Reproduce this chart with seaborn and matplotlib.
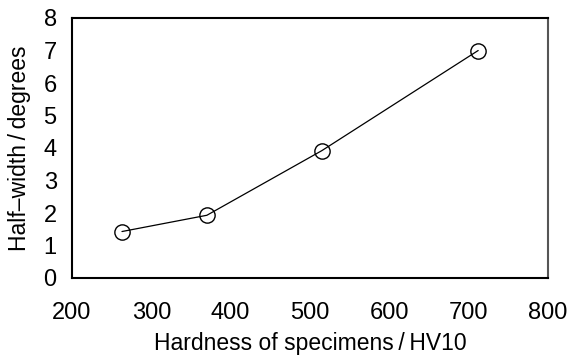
import matplotlib
matplotlib.use("Agg")
import matplotlib.pyplot as plt
import seaborn as sns
import pandas as pd

hardness = [263, 370, 515, 712]
half_width = [1.43, 1.93, 3.92, 7.0]
x_ticks = [200, 300, 400, 500, 600, 700, 800]
y_ticks = [0, 1, 2, 3, 4, 5, 6, 7, 8]

sns.set_theme(style="white")
plt.rcParams['font.family'] = ['Liberation Sans', 'DejaVu Sans']

df = pd.DataFrame({"x": hardness, "y": half_width})

fig = plt.figure(figsize=(5.68, 3.59), dpi=100)
ax = fig.add_axes([72/568, 81/359, 476/568, 260/359])
sns.lineplot(data=df, x="x", y="y", ax=ax, color="black", linewidth=0.9,
             marker="o", markersize=11, markerfacecolor="none",
             markeredgecolor="black", markeredgewidth=1.0)
ax.set_xlim(200, 800)
ax.set_ylim(0, 8)
ax.set_xticks(x_ticks)
ax.set_yticks(y_ticks)
ax.tick_params(axis="both", direction="in", length=8, width=1, color="#444444",
               labelsize=17, labelcolor="black")
ax.tick_params(axis="x", pad=17)
ax.tick_params(axis="y", pad=11)
for s in ["left", "bottom", "top"]:
    ax.spines[s].set_color("black")
    ax.spines[s].set_linewidth(1.5)
ax.spines["right"].set_color("#555555")
ax.spines["right"].set_linewidth(1.5)
ax.set_xlabel("Hardness of specimens\u2009/\u2009HV10", fontsize=16.5, labelpad=6, color="black")
ax.set_ylabel("Half\u2013width\u2009/\u2009degrees", fontsize=16.5, labelpad=9, color="black")
fig.savefig("out.png", dpi=100)
